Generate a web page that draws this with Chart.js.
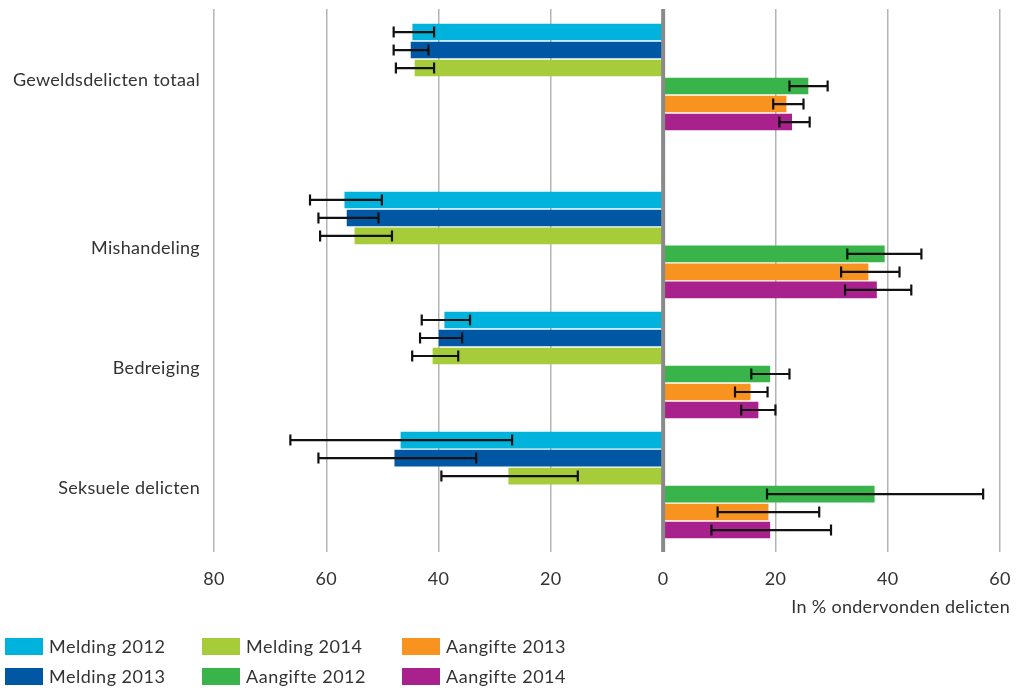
<!DOCTYPE html>
<html>
<head>
<meta charset="utf-8">
<script src="https://cdn.jsdelivr.net/npm/chart.js@4.4.1/dist/chart.umd.min.js"></script>
<style>
  body { margin: 0; background: #fff; font-family: Lato, sans-serif; }
  #wrap { position: relative; width: 1021px; height: 691px; }
  #legend { position: absolute; left: 0; top: 0; width: 1021px; height: 691px; pointer-events: none; }
  .item { position: absolute; font-size: 18px; color: #333; white-space: nowrap; letter-spacing: 0.5px; }
  .sw { position: absolute; left: 0; top: 0; width: 38px; height: 17px; }
  .lbl { position: absolute; left: 44px; top: -2px; line-height: 20px; }
</style>
</head>
<body>
<div id="wrap">
  <canvas id="myChart" width="1021" height="620"></canvas>
  <div id="legend"></div>
</div>
<script>
// categorieen (van boven naar beneden)
var categories = ['Geweldsdelicten totaal', 'Mishandeling', 'Bedreiging', 'Seksuele delicten'];

// percentages per reeks, volgorde als categories
var melding2012  = [44.6, 56.7, 38.9, 46.7];
var melding2013  = [44.9, 56.3, 39.9, 47.8];
var melding2014  = [44.2, 54.9, 41.0, 27.5];
var aangifte2012 = [25.8, 39.4, 19.0, 37.6];
var aangifte2013 = [21.9, 36.5, 15.5, 18.7];
var aangifte2014 = [22.9, 38.0, 16.9, 19.0];

// betrouwbaarheidsintervallen [onder, boven]
var melding2012Err  = [[40.8, 48.0], [50.1, 62.9], [34.4, 43.0], [26.9, 66.4]];
var melding2013Err  = [[41.8, 48.0], [50.7, 61.4], [35.8, 43.3], [33.3, 61.4]];
var melding2014Err  = [[40.8, 47.6], [48.3, 61.1], [36.5, 44.7], [15.2, 39.5]];
var aangifte2012Err = [[22.5, 29.3], [32.8, 46.0], [15.7, 22.5], [18.5, 57.0]];
var aangifte2013Err = [[19.6, 25.0], [31.7, 42.1], [12.8, 18.6], [9.7, 27.8]];
var aangifte2014Err = [[20.7, 26.1], [32.4, 44.2], [13.9, 20.0], [8.6, 29.9]];

var xTicks = [-80, -60, -40, -20, 0, 20, 40, 60];
var axisTitle = 'In % ondervonden delicten';

// layout: startrij van elke groep (in balkrijen)
var groupStart = [0, 9.33, 16, 22.67];

var series = [
  { label: 'Melding 2012',  values: melding2012,  err: melding2012Err,  color: '#00b3dd', side: -1 },
  { label: 'Melding 2013',  values: melding2013,  err: melding2013Err,  color: '#0057a4', side: -1 },
  { label: 'Melding 2014',  values: melding2014,  err: melding2014Err,  color: '#a7cc3a', side: -1 },
  { label: 'Aangifte 2012', values: aangifte2012, err: aangifte2012Err, color: '#39b44a', side: 1 },
  { label: 'Aangifte 2013', values: aangifte2013, err: aangifte2013Err, color: '#f7931e', side: 1 },
  { label: 'Aangifte 2014', values: aangifte2014, err: aangifte2014Err, color: '#a8218d', side: 1 }
];

var datasets = series.map(function(s, d) {
  return {
    label: s.label,
    data: s.values.map(function(v, i) { return { x: s.side * v, y: groupStart[i] + d }; }),
    backgroundColor: s.color,
    borderWidth: 0,
    barThickness: 16,
    grouped: false
  };
});

var errorBars = {
  id: 'errorBars',
  beforeDraw: function(chart) {
    chart.ctx.letterSpacing = '0.3px';
  },
  afterDatasetsDraw: function(chart) {
    var ctx = chart.ctx, xs = chart.scales.x, ys = chart.scales.y;
    // nullijn
    var x0 = xs.getPixelForValue(0);
    ctx.save();
    ctx.strokeStyle = '#8a8a8a';
    ctx.lineWidth = 4;
    ctx.beginPath();
    ctx.moveTo(x0, chart.chartArea.top);
    ctx.lineTo(x0, chart.chartArea.bottom);
    ctx.stroke();

    ctx.strokeStyle = '#111';
    ctx.lineWidth = 2.2;
    series.forEach(function(s, d) {
      s.err.forEach(function(e, i) {
        var y = ys.getPixelForValue(groupStart[i] + d);
        var a = xs.getPixelForValue(s.side * e[0]);
        var b = xs.getPixelForValue(s.side * e[1]);
        ctx.beginPath();
        ctx.moveTo(a, y); ctx.lineTo(b, y);
        ctx.moveTo(a, y - 5.5); ctx.lineTo(a, y + 5.5);
        ctx.moveTo(b, y - 5.5); ctx.lineTo(b, y + 5.5);
        ctx.stroke();
      });
    });

    ctx.fillStyle = '#333';
    ctx.font = '18px Lato, sans-serif';
    ctx.textAlign = 'right';
    ctx.textBaseline = 'middle';
    ctx.fillText(axisTitle, chart.chartArea.right + 10, 607);
    ctx.restore();
  }
};

new Chart(document.getElementById('myChart'), {
  type: 'bar',
  data: { datasets: datasets },
  options: {
    indexAxis: 'y',
    responsive: false,
    animation: false,
    events: [],
    layout: { padding: { top: 9, right: 21, left: 0, bottom: 0 } },
    plugins: { legend: { display: false }, tooltip: { enabled: false } },
    scales: {
      x: {
        type: 'linear',
        min: -80,
        max: 60,
        afterBuildTicks: function(scale) {
          scale.ticks = xTicks.map(function(v) { return { value: v }; });
        },
        afterFit: function(scale) {
          scale.height = 68;
          scale.paddingLeft = 0;
          scale.paddingRight = 0;
        },
        ticks: {
          callback: function(v) { return Math.abs(v); },
          color: '#333',
          font: { family: 'Lato', size: 18 },
          padding: 16
        },
        grid: {
          drawTicks: false,
          color: function(c) { return c.tick && c.tick.value === 0 ? 'rgba(0,0,0,0)' : '#b4b4b4'; },
          lineWidth: 1.5
        },
        border: { display: false }
      },
      y: {
        type: 'linear',
        reverse: true,
        offset: false,
        min: -1.28,
        max: 28.89,
        afterBuildTicks: function(scale) {
          scale.ticks = groupStart.map(function(g) { return { value: g + 2.67 }; });
        },
        afterFit: function(scale) {
          scale.width = 214;
          scale.paddingTop = 0;
          scale.paddingBottom = 0;
        },
        ticks: {
          autoSkip: false,
          callback: function(v, i) { return categories[i]; },
          color: '#333',
          font: { family: 'Lato', size: 18 },
          padding: 14
        },
        grid: { display: false, drawTicks: false, offset: false },
        border: { display: false }
      }
    }
  },
  plugins: [errorBars]
});

// legenda in drie kolommen (kolomsgewijs gevuld)
var legendCols = [[0, 1], [2, 3], [4, 5]];
var colLeft = [5, 202, 402];
var rowTop = [638, 668];
var leg = document.getElementById('legend');
legendCols.forEach(function(col, c) {
  col.forEach(function(d, r) {
    var it = document.createElement('div');
    it.className = 'item';
    it.style.left = colLeft[c] + 'px';
    it.style.top = rowTop[r] + 'px';
    it.innerHTML = '<div class="sw" style="background:' + series[d].color + '"></div><div class="lbl">' + series[d].label + '</div>';
    leg.appendChild(it);
  });
});
</script>
</body>
</html>
